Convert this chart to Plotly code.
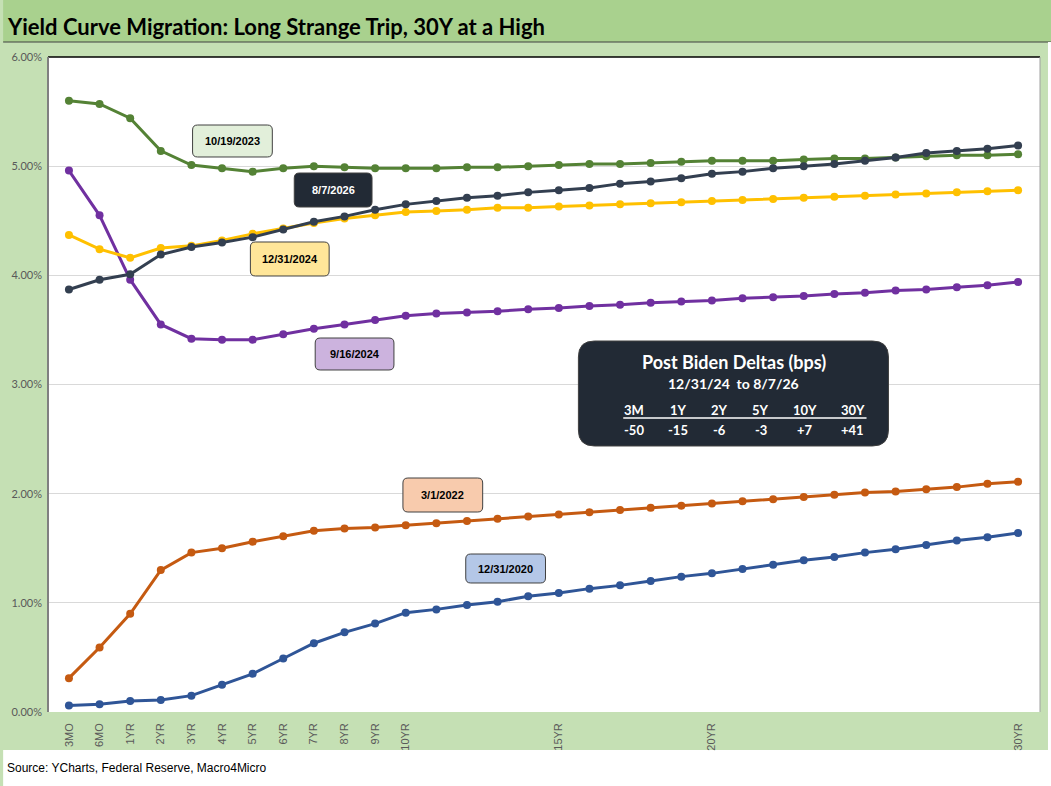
import plotly.graph_objects as go

# tenors (x categories)
tenors = ["3MO", "6MO"] + [f"{i}YR" for i in range(1, 31)]
shown_ticks = ["3MO", "6MO", "1YR", "2YR", "3YR", "4YR", "5YR", "6YR", "7YR",
               "8YR", "9YR", "10YR", "15YR", "20YR", "30YR"]

# yields in %
y_2023_10_19 = [5.60, 5.57, 5.44, 5.14, 5.01, 4.98, 4.95, 4.98, 5.00, 4.99, 4.98, 4.98,
                4.98, 4.99, 4.99, 5.00, 5.01, 5.02, 5.02, 5.03, 5.04, 5.05, 5.05, 5.05,
                5.06, 5.07, 5.07, 5.08, 5.09, 5.10, 5.10, 5.11]
y_2026_08_07 = [3.87, 3.96, 4.01, 4.19, 4.26, 4.30, 4.35, 4.42, 4.49, 4.54, 4.60, 4.65,
                4.68, 4.71, 4.73, 4.76, 4.78, 4.80, 4.84, 4.86, 4.89, 4.93, 4.95, 4.98,
                5.00, 5.02, 5.05, 5.08, 5.12, 5.14, 5.16, 5.19]
y_2024_12_31 = [4.37, 4.24, 4.16, 4.25, 4.27, 4.32, 4.38, 4.43, 4.48, 4.52, 4.55, 4.58,
                4.59, 4.60, 4.62, 4.62, 4.63, 4.64, 4.65, 4.66, 4.67, 4.68, 4.69, 4.70,
                4.71, 4.72, 4.73, 4.74, 4.75, 4.76, 4.77, 4.78]
y_2024_09_16 = [4.96, 4.55, 3.96, 3.55, 3.42, 3.41, 3.41, 3.46, 3.51, 3.55, 3.59, 3.63,
                3.65, 3.66, 3.67, 3.69, 3.70, 3.72, 3.73, 3.75, 3.76, 3.77, 3.79, 3.80,
                3.81, 3.83, 3.84, 3.86, 3.87, 3.89, 3.91, 3.94]
y_2022_03_01 = [0.31, 0.59, 0.90, 1.30, 1.46, 1.50, 1.56, 1.61, 1.66, 1.68, 1.69, 1.71,
                1.73, 1.75, 1.77, 1.79, 1.81, 1.83, 1.85, 1.87, 1.89, 1.91, 1.93, 1.95,
                1.97, 1.99, 2.01, 2.02, 2.04, 2.06, 2.09, 2.11]
y_2020_12_31 = [0.06, 0.07, 0.10, 0.11, 0.15, 0.25, 0.35, 0.49, 0.63, 0.73, 0.81, 0.91,
                0.94, 0.98, 1.01, 1.06, 1.09, 1.13, 1.16, 1.20, 1.24, 1.27, 1.31, 1.35,
                1.39, 1.42, 1.46, 1.49, 1.53, 1.57, 1.60, 1.64]

# deltas table
delta_heads = ["3M", "1Y", "2Y", "5Y", "10Y", "30Y"]
delta_vals = ["-50", "-15", "-6", "-3", "+7", "+41"]

series = [
    ("12/31/2020", y_2020_12_31, "#2f5597"),
    ("3/1/2022", y_2022_03_01, "#c55a11"),
    ("9/16/2024", y_2024_09_16, "#7030a0"),
    ("12/31/2024", y_2024_12_31, "#ffc000"),
    ("10/19/2023", y_2023_10_19, "#548235"),
    ("8/7/2026", y_2026_08_07, "#333f50"),
]

# plot area in pixels
L, R, T, B = 45, 1040, 57, 712
PW, PH = R - L, B - T


def px(x):
    return (x - L) / PW


def py(y):
    return (B - y) / PH


def rrect(x0, y0, x1, y1, r):
    pts = [
        ("M", x0 + r, y0), ("L", x1 - r, y0), ("Q", x1, y0, x1, y0 + r),
        ("L", x1, y1 - r), ("Q", x1, y1, x1 - r, y1), ("L", x0 + r, y1),
        ("Q", x0, y1, x0, y1 - r), ("L", x0, y0 + r), ("Q", x0, y0, x0 + r, y0),
    ]
    out = ""
    for p in pts:
        coords = p[1:]
        s = " ".join(f"{px(coords[i]):.5f},{py(coords[i + 1]):.5f}" for i in range(0, len(coords), 2))
        out += f"{p[0]} {s} "
    return out + "Z"


def note(text, x, y, size, color, family="Lato", anchor="center"):
    return dict(text=text, xref="paper", yref="paper", x=px(x), y=py(y),
                xanchor=anchor, yanchor="middle", showarrow=False,
                font=dict(family=family, size=size, color=color))


fig = go.Figure()
for name, vals, color in series:
    fig.add_trace(go.Scatter(
        x=tenors, y=vals, name=name, mode="lines+markers",
        line=dict(color=color, width=3), marker=dict(color=color, size=8),
    ))

shapes = [
    # title banner
    dict(type="rect", xref="paper", yref="paper", x0=px(0), x1=px(1051), y0=py(0), y1=py(42),
         fillcolor="#a9d18e", line=dict(width=0), layer="below"),
    dict(type="line", xref="paper", yref="paper", x0=px(0), x1=px(1051), y0=py(42), y1=py(42),
         line=dict(color="#404040", width=1), layer="below"),
    # white strip under the chart
    dict(type="rect", xref="paper", yref="paper", x0=px(0), x1=px(1051), y0=py(750), y1=py(786),
         fillcolor="white", line=dict(width=0), layer="below"),
    dict(type="rect", xref="paper", yref="paper", x0=px(1048), x1=px(1051), y0=py(42), y1=py(786),
         fillcolor="white", line=dict(width=0), layer="below"),
    # plot border
    dict(type="line", xref="paper", yref="paper", x0=0, x1=1, y0=1, y1=1,
         line=dict(color="#000000", width=1.5), layer="above"),
    dict(type="line", xref="paper", yref="paper", x0=0, x1=0, y0=0, y1=1,
         line=dict(color="#808080", width=2), layer="above"),
    dict(type="line", xref="paper", yref="paper", x0=1, x1=1, y0=0, y1=1,
         line=dict(color="#a0a0a0", width=1), layer="above"),
]

annotations = [
    note("<b>Yield Curve Migration: Long Strange Trip, 30Y at a High</b>", 2, 26, 22, "#000000", anchor="left"),
    note("Source: YCharts, Federal Reserve, Macro4Micro", 2, 768, 12, "#000000", family="Arial", anchor="left"),
]

# series label boxes (pixel boxes)
label_boxes = [
    ("10/19/2023", (190, 125, 270, 157), "#e2efda", "#000000"),
    ("8/7/2026", (292, 173, 370, 207), "#222a35", "#ffffff"),
    ("12/31/2024", (248, 242, 327, 276), "#ffe699", "#000000"),
    ("9/16/2024", (313, 338, 392, 370), "#ccb3de", "#000000"),
    ("3/1/2022", (401, 478, 481, 512), "#f8cbad", "#000000"),
    ("12/31/2020", (464, 554, 544, 583), "#b4c7e7", "#000000"),
]
for text, (x0, y0, x1, y1), fill, fcol in label_boxes:
    shapes.append(dict(type="path", xref="paper", yref="paper", path=rrect(x0, y0, x1, y1, 5),
                       fillcolor=fill, line=dict(color="#404040", width=1), layer="above"))
    annotations.append(note(f"<b>{text}</b>", (x0 + x1) / 2, (y0 + y1) / 2, 11, fcol, family="Arial"))

# deltas box
shapes.append(dict(type="path", xref="paper", yref="paper", path=rrect(577, 341, 888, 446, 16),
                   fillcolor="#222a35", line=dict(color="#404040", width=1), layer="above"))
annotations.append(note("<b>Post Biden Deltas (bps)</b>", 733, 362, 18, "white"))
annotations.append(note("<b>12/31/24  to 8/7/26</b>", 733, 383, 14, "white"))
col_x = [633, 677, 719, 760, 804, 852]
for cx, h, v in zip(col_x, delta_heads, delta_vals):
    annotations.append(note(f"<b>{h}</b>", cx, 410, 13, "white"))
    annotations.append(note(f"<b>{v}</b>", cx, 430, 13, "white"))
shapes.append(dict(type="line", xref="paper", yref="paper", x0=px(622), x1=px(866),
                   y0=py(418), y1=py(418), line=dict(color="white", width=1.5), layer="above"))

fig.update_layout(
    width=1051, height=786,
    margin=dict(l=L, r=1051 - R, t=T, b=786 - B),
    paper_bgcolor="#c5e0b4", plot_bgcolor="white",
    showlegend=False,
    shapes=shapes, annotations=annotations,
    xaxis=dict(type="category", range=[-0.684, 31.716], tickmode="array",
               tickvals=shown_ticks, ticktext=shown_ticks, tickangle=-90,
               showgrid=False, ticks="", zeroline=False, ticklabelstandoff=8,
               tickfont=dict(family="Arial", size=11, color="#595959")),
    yaxis=dict(range=[0, 6], dtick=1, tickformat=".2f", ticksuffix="%",
               showgrid=True, gridcolor="#d9d9d9", gridwidth=1, zeroline=False,
               ticks="", ticklabelstandoff=5,
               tickfont=dict(family="Lato", size=11, color="#595959")),
)

fig.write_html(
    "out.html", config={"displayModeBar": False},
    post_script="document.body.style.margin='0';document.body.style.padding='0';"
                "document.body.style.overflow='hidden';window.scrollTo(0,0);",
)
